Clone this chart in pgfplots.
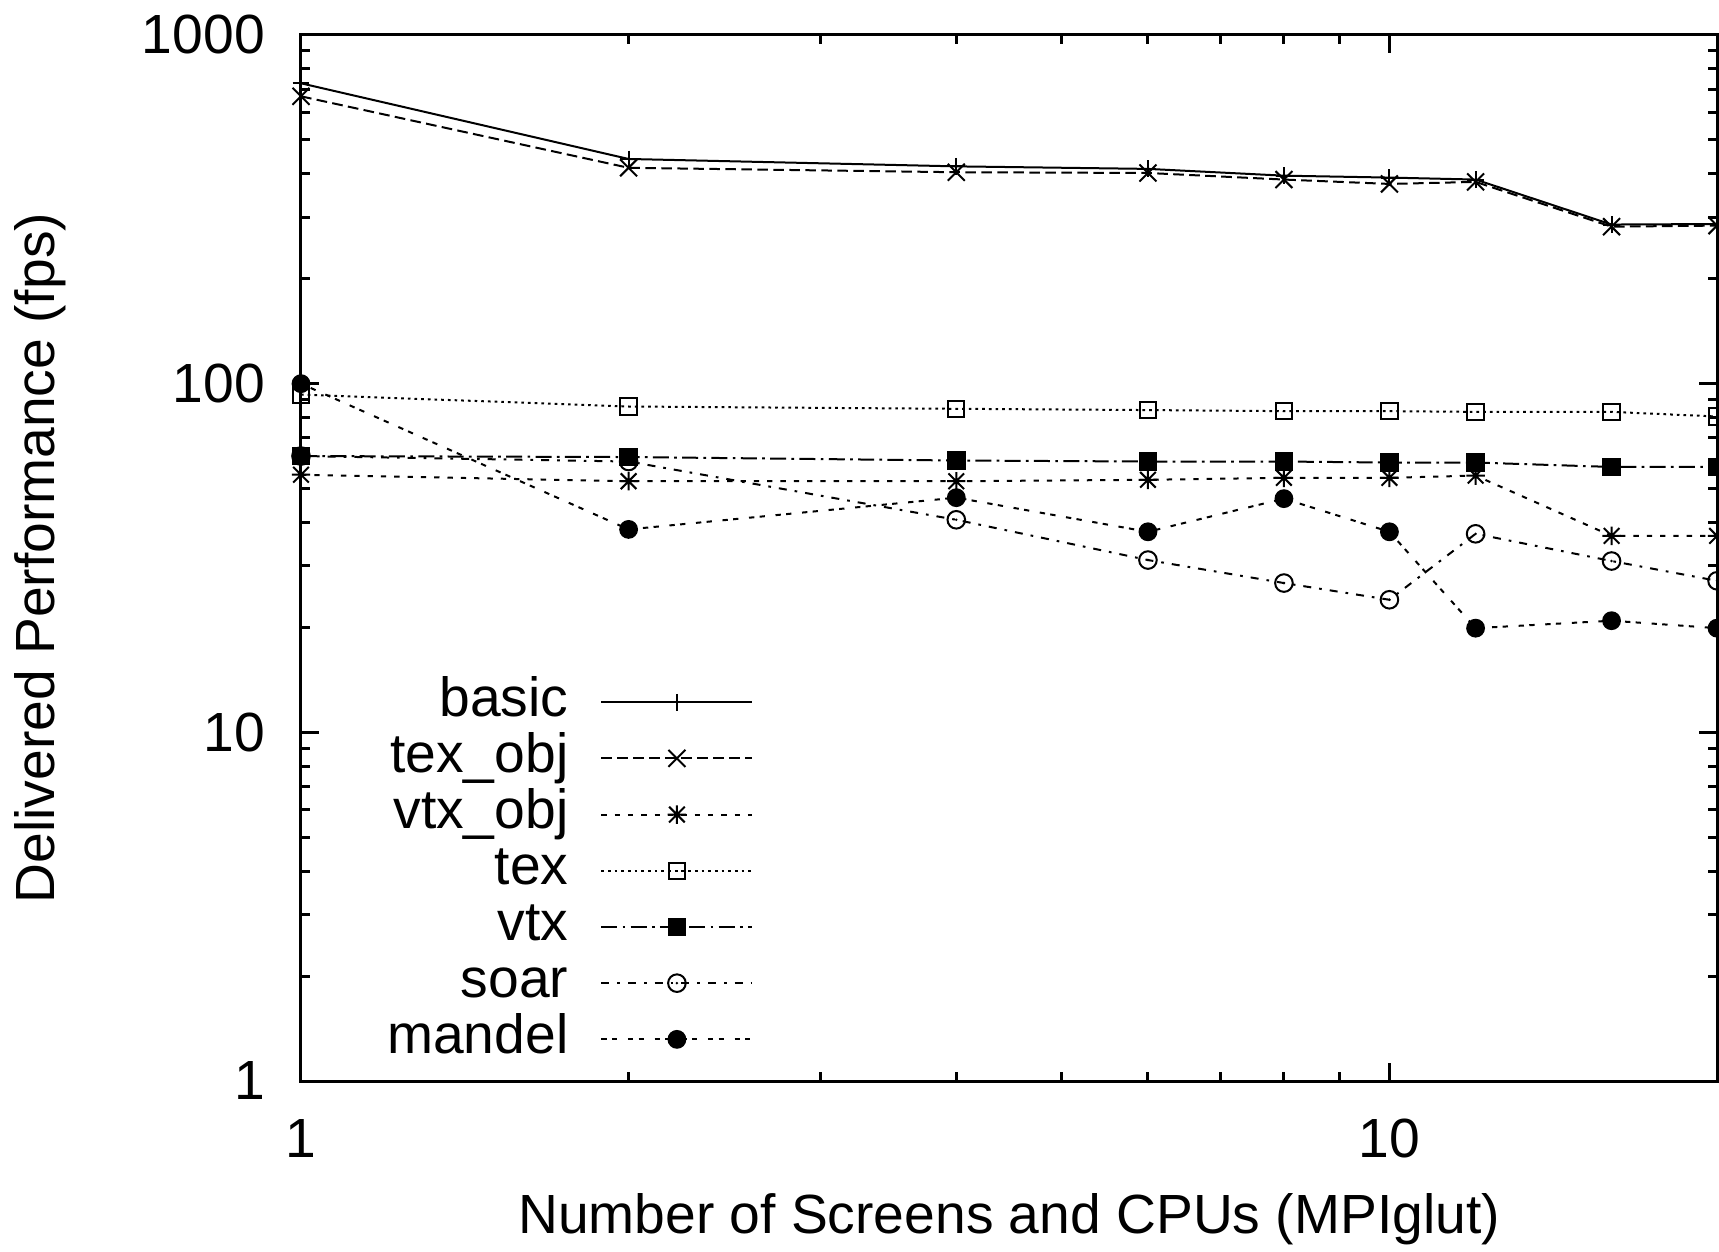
\documentclass[border=0pt]{standalone}
\usepackage{pgfplots}
\pgfplotsset{compat=1.18}
\usepackage{fontspec}
\setmainfont{Liberation Sans}

% gnuplot style marks: * (plus and cross) and circle with a centre dot
\pgfdeclareplotmark{gpstar}{%
  \pgfpathmoveto{\pgfqpoint{0pt}{\pgfplotmarksize}}\pgfpathlineto{\pgfqpoint{0pt}{-\pgfplotmarksize}}%
  \pgfpathmoveto{\pgfqpoint{\pgfplotmarksize}{0pt}}\pgfpathlineto{\pgfqpoint{-\pgfplotmarksize}{0pt}}%
  \pgfpathmoveto{\pgfqpoint{.85\pgfplotmarksize}{.85\pgfplotmarksize}}\pgfpathlineto{\pgfqpoint{-.85\pgfplotmarksize}{-.85\pgfplotmarksize}}%
  \pgfpathmoveto{\pgfqpoint{-.85\pgfplotmarksize}{.85\pgfplotmarksize}}\pgfpathlineto{\pgfqpoint{.85\pgfplotmarksize}{-.85\pgfplotmarksize}}%
  \pgfusepathqstroke}
\pgfdeclareplotmark{gpcirc}{%
  \pgfpathcircle{\pgfpointorigin}{\pgfplotmarksize}\pgfusepathqstroke
  \pgfpathcircle{\pgfpointorigin}{0.35pt}\pgfusepathqfill}

\pgfplotstableread{
x basic texobj vtxobj tex vtx soar mandel
1  727 667 54.8 93.0 62.0 62.0 100
2  441 416 52.5 86.0 61.6 59.8 38.2
4  420 404 52.5 84.7 60.2 40.7 47.1
6  413 402 53.0 84.0 59.8 31.2 37.6
8  395 385 53.7 83.4 59.8 26.8 46.8
10 390 374 53.7 83.4 59.4 24.0 37.6
12 385 379 54.5 83.0 59.4 37.1 19.9
16 286 282 36.6 83.0 57.7 31.0 20.9
20 287 284 36.6 80.5 57.7 27.2 19.9
}\perf

\begin{document}
\fontsize{13.8}{16.5}\selectfont
\begin{tikzpicture}
\begin{axis}[
    name=main,
    xmode=log, ymode=log,
    scale only axis,
    width=354pt, height=261.5pt,
    xmin=1, xmax=20, ymin=1, ymax=1000,
    xtick={1,10}, xticklabels={1,10},
    ytick={1,10,100,1000}, yticklabels={1,10,100,1000},
    minor xtick={2,3,4,5,6,7,8,9,20},
    minor ytick={2,3,4,5,6,7,8,9,20,30,40,50,60,70,80,90,200,300,400,500,600,700,800,900},
    tick align=inside,
    major tick length=4.5pt, minor tick length=2.3pt,
    tick style={black, line width=0.75pt},
    axis line style={line width=0.75pt},
    xticklabel style={yshift=-4.75pt},
    yticklabel style={xshift=-4.25pt},
    xlabel={Number of Screens and CPUs (MPIglut)},
    ylabel={Delivered Performance (fps)},
    xlabel style={at={(axis description cs:0.5,-0.1319)}, anchor=center},
    ylabel style={at={(axis description cs:-0.1843,0.5)}, anchor=center},
    legend plot pos=right,
    legend cell align=right,
    legend image code/.code={%
        \draw[mark repeat=2,mark phase=2,#1] plot coordinates {(0pt,0pt) (18.9pt,0pt) (37.75pt,0pt)};},
    legend style={at={(axis description cs:0.32,0.201)}, anchor=east,
        draw=none, fill=none, inner sep=0pt, row sep=1.05pt, column sep=8pt,
        nodes={inner sep=0pt, text height=10pt, text depth=3pt}},
    every axis plot/.append style={black, line width=0.5pt},
]
\addplot[solid, mark=+, mark size=2.1pt, mark options={solid}] table[x=x, y=basic] {\perf};
\addlegendentry{basic}
\addplot[dash pattern=on 2.67pt off 1.33pt, mark=x, mark size=3pt, mark options={solid}] table[x=x, y=texobj] {\perf};
\addlegendentry{tex\_obj}
\addplot[dash pattern=on 1.33pt off 2pt, mark=gpstar, mark size=2.3pt, mark options={solid}] table[x=x, y=vtxobj] {\perf};
\addlegendentry{vtx\_obj}
\addplot[dash pattern=on 0.67pt off 1pt, mark=square, mark size=2.05pt, mark options={solid}] table[x=x, y=tex] {\perf};
\addlegendentry{tex}
\addplot[dash pattern=on 4pt off 1.33pt on 0.67pt off 1.33pt, mark=square*, mark size=2.1pt, mark options={solid, fill=black}] table[x=x, y=vtx] {\perf};
\addlegendentry{vtx}
\addplot[dash pattern=on 2pt off 2pt on 0.67pt off 2pt, mark=gpcirc, mark size=2.2pt, mark options={solid}] table[x=x, y=soar] {\perf};
\addlegendentry{soar}
\addplot[dash pattern=on 1.33pt off 1.33pt on 1.33pt off 2.67pt, mark=*, mark size=2.1pt, mark options={solid, fill=black}] table[x=x, y=mandel] {\perf};
\addlegendentry{mandel}
\end{axis}
\pgfresetboundingbox
\path[use as bounding box] ([xshift=-75.25pt,yshift=-42.5pt]main.south west) rectangle ([xshift=0.5pt,yshift=8.75pt]main.north east);
\end{tikzpicture}
\end{document}
